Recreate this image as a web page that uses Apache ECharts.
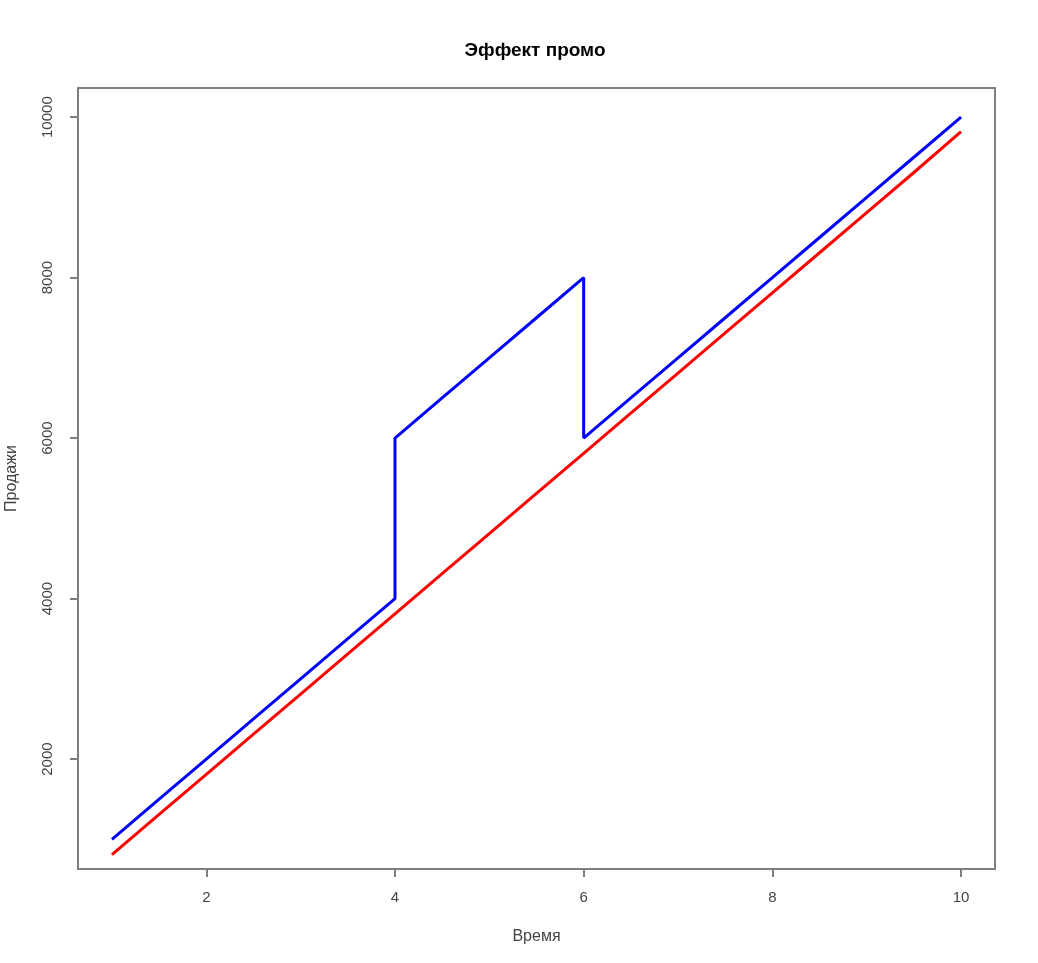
<!DOCTYPE html>
<html>
<head>
<meta charset="utf-8">
<script src="https://cdn.jsdelivr.net/npm/echarts@6/dist/echarts.min.js"></script>
<style>html,body{margin:0;padding:0;background:#fff;}#c{width:1038px;height:963px;}</style>
</head>
<body>
<div id="c"></div>
<script>
const titleText = 'Эффект промо';
const xName = 'Время';
const yName = 'Продажи';
const xTicks = [2, 4, 6, 8, 10];
const yTicks = [2000, 4000, 6000, 8000, 10000];
const blueX = [1, 1.5, 2, 2.5, 3, 3.5, 4, 4, 4.5, 5, 5.5, 6, 6, 6.5, 7, 7.5, 8, 8.5, 9, 9.5, 10];
const blueY = [1000, 1500, 2000, 2500, 3000, 3500, 4000, 6000, 6500, 7000, 7500, 8000, 6000, 6500, 7000, 7500, 8000, 8500, 9000, 9500, 10000];
const redX = [1, 1.5, 2, 2.5, 3, 3.5, 4, 4.5, 5, 5.5, 6, 6.5, 7, 7.5, 8, 8.5, 9, 9.5, 10];
const redY = [810, 1310, 1810, 2310, 2810, 3310, 3810, 4310, 4810, 5310, 5810, 6310, 6810, 7310, 7810, 8310, 8810, 9310, 9820];

const font = 'Liberation Sans, Arial, sans-serif';
const chart = echarts.init(document.getElementById('c'), null, {renderer: 'canvas'});
chart.setOption({
  animation: false,
  backgroundColor: '#ffffff',
  title: {
    text: titleText, left: 530, top: 36, textAlign: 'center',
    textStyle: {fontFamily: font, fontSize: 19, fontWeight: 'bold', color: '#000'}
  },
  grid: {left: 78, right: 43, top: 88, bottom: 94, show: true, borderColor: '#7f7f7f', borderWidth: 2, backgroundColor: 'transparent', containLabel: false, outerBoundsMode: 'none'},
  xAxis: {
    type: 'value', min: 0.64, max: 10.36,
    name: xName, nameLocation: 'middle', nameGap: 60,
    nameTextStyle: {fontFamily: font, fontSize: 16, color: '#444'},
    axisLine: {show: false},
    axisTick: {show: true, length: 8, customValues: xTicks, lineStyle: {color: '#7f7f7f', width: 2}},
    axisLabel: {customValues: xTicks, margin: 21, fontFamily: font, fontSize: 15, color: '#444', formatter: v => String(v)},
    splitLine: {show: false}
  },
  yAxis: {
    type: 'value', min: 630, max: 10363,
    name: yName, nameLocation: 'middle', nameGap: 58, nameRotate: 90,
    nameTextStyle: {fontFamily: font, fontSize: 16, color: '#444'},
    axisLine: {show: false},
    axisTick: {show: true, length: 8, customValues: yTicks, lineStyle: {color: '#7f7f7f', width: 2}},
    axisLabel: {customValues: yTicks, rotate: 90, margin: 23, fontFamily: font, fontSize: 15, color: '#444', formatter: v => String(v)},
    splitLine: {show: false}
  },
  series: [
    {type: 'line', data: blueX.map((x, i) => [x, blueY[i]]), showSymbol: false, lineStyle: {color: '#0000ff', width: 3}, itemStyle: {color: '#0000ff'}, z: 3},
    {type: 'line', data: redX.map((x, i) => [x, redY[i]]), showSymbol: false, lineStyle: {color: '#ff0000', width: 3}, itemStyle: {color: '#ff0000'}, z: 2}
  ]
});
</script>
</body>
</html>
